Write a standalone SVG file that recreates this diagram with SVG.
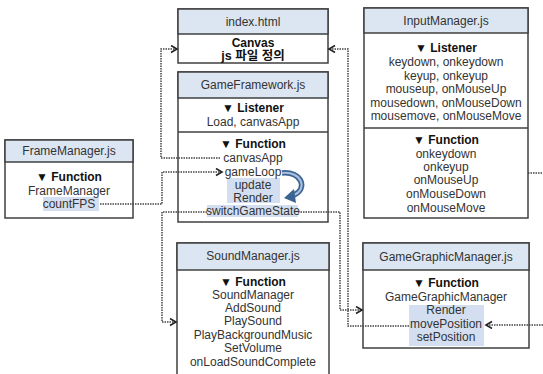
<svg xmlns="http://www.w3.org/2000/svg" width="543" height="374" viewBox="0 0 543 374">
<defs>
<style>
.box{fill:#fff;stroke:#404040;stroke-width:1.5}
.hdr{fill:#dce6f2;stroke:#404040;stroke-width:1.5}
.sep{stroke:#404040;stroke-width:1.5}
text{font-family:"Liberation Sans","Noto Sans CJK KR",sans-serif;font-size:12px;fill:#333;text-anchor:middle;dominant-baseline:central}
.b{font-weight:bold;fill:#111}
.hl{fill:#d3dff0}
.con{fill:none;stroke:#444;stroke-width:1.5;stroke-dasharray:1.5 1}
</style>
<marker id="ah" markerWidth="10" markerHeight="10" refX="7" refY="4" orient="auto" markerUnits="userSpaceOnUse">
<path d="M1,0.5 L7,4 L1,7.5" fill="none" stroke="#222" stroke-width="1.6"/>
</marker>
</defs>
<rect width="543" height="374" fill="#fff"/>

<g id="index">
<rect class="box" x="178" y="9" width="150" height="54"/>
<rect class="hdr" x="178" y="9" width="150" height="25"/>
<text x="253" y="21.5">index.html</text>
<text class="b" x="253" y="43">Canvas</text>
<text class="b" x="253" y="56" style="font-size:12.5px">js 파일 정의</text>
</g>

<g id="gameframework">
<rect class="box" x="178" y="72" width="150" height="150"/>
<rect class="hdr" x="178" y="72" width="150" height="26"/>
<line class="sep" x1="178" y1="132" x2="328" y2="132"/>
<rect class="hl" x="227" y="178" width="53" height="25"/>
<rect class="hl" x="207" y="205" width="91" height="12"/>
<text x="253" y="85">GameFramework.js</text>
<text class="b" x="253" y="108">▼ Listener</text>
<text x="253" y="122">Load, canvasApp</text>
<text class="b" x="253" y="144">▼ Function</text>
<text x="253" y="158">canvasApp</text>
<text x="253" y="172">gameLoop</text>
<text x="253" y="184.5">update</text>
<text x="253" y="198">Render</text>
<text x="253" y="211">switchGameState</text>
<path d="M282,173 C302,171 308,189 294,195" fill="none" stroke="#3b6494" stroke-width="5.5"/>
<path d="M282,173 C302,171 308,189 294,195" fill="none" stroke="#a9bfdc" stroke-width="2"/>
<polygon points="284,198 294,189 296,203" fill="#3b6494"/>
</g>

<g id="inputmanager">
<rect class="box" x="364" y="8" width="164" height="210"/>
<rect class="hdr" x="364" y="8" width="164" height="25"/>
<line class="sep" x1="364" y1="128" x2="528" y2="128"/>
<text x="446" y="21">InputManager.js</text>
<text class="b" x="446" y="48">▼ Listener</text>
<text x="446" y="62">keydown, onkeydown</text>
<text x="446" y="76">keyup, onkeyup</text>
<text x="446" y="89">mouseup, onMouseUp</text>
<text x="446" y="103">mousedown, onMouseDown</text>
<text x="446" y="116">mousemove, onMouseMove</text>
<text class="b" x="446" y="140">▼ Function</text>
<text x="446" y="154">onkeydown</text>
<text x="446" y="167">onkeyup</text>
<text x="446" y="180">onMouseUp</text>
<text x="446" y="194">onMouseDown</text>
<text x="446" y="208">onMouseMove</text>
</g>

<g id="framemanager">
<rect class="box" x="5" y="140" width="128" height="78"/>
<rect class="hdr" x="5" y="140" width="128" height="22"/>
<rect class="hl" x="43" y="197" width="56" height="14"/>
<text x="69" y="151">FrameManager.js</text>
<text class="b" x="69" y="177">▼ Function</text>
<text x="69" y="191">FrameManager</text>
<text x="69" y="204">countFPS</text>
</g>

<g id="soundmanager">
<rect class="box" x="177" y="243" width="152" height="140"/>
<rect class="hdr" x="177" y="243" width="152" height="27"/>
<text x="253" y="256">SoundManager.js</text>
<text class="b" x="253" y="282">▼ Function</text>
<text x="253" y="295">SoundManager</text>
<text x="253" y="308">AddSound</text>
<text x="253" y="321">PlaySound</text>
<text x="253" y="335">PlayBackgroundMusic</text>
<text x="253" y="348">SetVolume</text>
<text x="253" y="362">onLoadSoundComplete</text>
</g>

<g id="gamegraphicmanager">
<rect class="box" x="363" y="243" width="166" height="105"/>
<rect class="hdr" x="363" y="243" width="166" height="27"/>
<rect class="hl" x="409" y="305" width="75" height="41"/>
<text x="446" y="257">GameGraphicManager.js</text>
<text class="b" x="446" y="283">▼ Function</text>
<text x="446" y="297">GameGraphicManager</text>
<text x="446" y="310">Render</text>
<text x="446" y="324">movePosition</text>
<text x="446" y="337">setPosition</text>
</g>

<g id="connectors">
<path class="con" d="M220,158 H161 V49 H177" marker-end="url(#ah)"/>
<path class="con" d="M100,204 H162 V172 H222" marker-end="url(#ah)"/>
<path class="con" d="M207,212 H162 V322 H176" marker-end="url(#ah)"/>
<path class="con" d="M298,212 H340 V310 H362" marker-end="url(#ah)"/>
<path class="con" d="M409,326 H348 V49 H329" marker-end="url(#ah)"/>
<path class="con" d="M543,325 H486" marker-end="url(#ah)"/>
<path class="con" d="M528,173 H543"/>
</g>
</svg>
